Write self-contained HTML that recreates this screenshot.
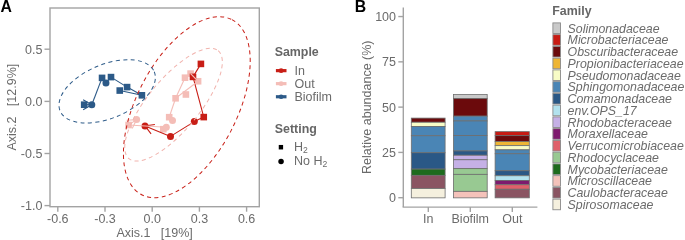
<!DOCTYPE html>
<html><head><meta charset="utf-8"><style>
html,body{margin:0;padding:0;background:#fff;width:685px;height:240px;overflow:hidden}
svg{display:block;will-change:transform}
text{font-family:"Liberation Sans",sans-serif}
.t{font-size:12.5px;fill:#6b6b6b}
.lt{font-size:12.4px;font-weight:bold;fill:#666666}
.it{font-size:12.35px;font-style:italic;fill:#6b6b6b}
.tag{font-size:15.8px;font-weight:bold;fill:#000}
</style></head><body>
<svg width="685" height="240" viewBox="0 0 685 240">
<rect x="181.70" y="74.40" width="6.6" height="6.6" fill="#f4bdb7"/>
<rect x="187.30" y="70.30" width="6.6" height="6.6" fill="#f4bdb7"/>
<rect x="194.80" y="77.95" width="6.6" height="6.6" fill="#f4bdb7"/>
<rect x="172.30" y="95.00" width="6.6" height="6.6" fill="#f4bdb7"/>
<rect x="182.60" y="91.20" width="6.6" height="6.6" fill="#f4bdb7"/>
<rect x="165.90" y="113.90" width="6.6" height="6.6" fill="#f4bdb7"/>
<rect x="160.00" y="125.90" width="6.6" height="6.6" fill="#f4bdb7"/>
<rect x="125.30" y="121.70" width="6.6" height="6.6" fill="#f4bdb7"/>
<circle cx="172.5" cy="120.6" r="3.5" fill="#f4bdb7"/>
<circle cx="166.3" cy="127.2" r="3.5" fill="#f4bdb7"/>
<circle cx="136.6" cy="119.6" r="3.5" fill="#f4bdb7"/>
<rect x="197.60" y="60.60" width="6.6" height="6.6" fill="#c81e16"/>
<rect x="189.70" y="73.60" width="6.6" height="6.6" fill="#c81e16"/>
<rect x="200.45" y="113.80" width="6.6" height="6.6" fill="#c81e16"/>
<circle cx="194.3" cy="121.6" r="3.5" fill="#c81e16"/>
<circle cx="170.5" cy="136.4" r="3.5" fill="#c81e16"/>
<circle cx="145" cy="125.9" r="3.5" fill="#c81e16"/>
<rect x="80.90" y="101.40" width="6.6" height="6.6" fill="#2c5a88"/>
<rect x="98.75" y="74.60" width="6.6" height="6.6" fill="#2c5a88"/>
<rect x="107.70" y="73.80" width="6.6" height="6.6" fill="#2c5a88"/>
<rect x="116.45" y="87.25" width="6.6" height="6.6" fill="#2c5a88"/>
<rect x="123.80" y="83.80" width="6.6" height="6.6" fill="#2c5a88"/>
<rect x="138.60" y="92.00" width="6.6" height="6.6" fill="#2c5a88"/>
<circle cx="91.8" cy="104.7" r="3.5" fill="#2c5a88"/>
<circle cx="105.95" cy="83.1" r="3.5" fill="#2c5a88"/>
<polyline points="200.9,63.9 193,76.9 203.75,117.1 194.3,121.6 170.5,136.4 145,125.9" fill="none" stroke="#c81e16" stroke-width="1.1" stroke-linejoin="round"/>
<polyline points="151.10,133.82 145,125.9 154.91,124.57" fill="none" stroke="#c81e16" stroke-width="1.1"/>
<polyline points="185,77.7 175.6,98.3" fill="none" stroke="#f4bdb7" stroke-width="1.1" stroke-linejoin="round"/>
<polyline points="198.1,81.25 175.6,98.3" fill="none" stroke="#f4bdb7" stroke-width="1.1" stroke-linejoin="round"/>
<polyline points="190.6,73.6 198.1,81.25" fill="none" stroke="#f4bdb7" stroke-width="1.1" stroke-linejoin="round"/>
<polyline points="175.6,98.3 169.2,117.2" fill="none" stroke="#f4bdb7" stroke-width="1.1" stroke-linejoin="round"/>
<polyline points="169.2,117.2 172.5,120.6" fill="none" stroke="#f4bdb7" stroke-width="1.1" stroke-linejoin="round"/>
<polyline points="166.3,127.2 128.6,125 136.6,119.6" fill="none" stroke="#f4bdb7" stroke-width="1.1" stroke-linejoin="round"/>
<polyline points="126.62,120.30 136.6,119.6 132.22,128.59" fill="none" stroke="#f4bdb7" stroke-width="1.1"/>
<polyline points="119.75,90.55 141.9,95.3 127.1,87.1 111,77.1 105.95,83.1" fill="none" stroke="#2c5a88" stroke-width="1.1" stroke-linejoin="round"/>
<polyline points="102.05,77.9 91.8,104.7" fill="none" stroke="#2c5a88" stroke-width="1.1" stroke-linejoin="round"/>
<polyline points="84.2,104.7 91.8,104.7" fill="none" stroke="#2c5a88" stroke-width="1.1" stroke-linejoin="round"/>
<polyline points="83.14,99.70 91.8,104.7 83.14,109.70" fill="none" stroke="#2c5a88" stroke-width="1.1"/>
<ellipse cx="186.82" cy="107.18" rx="98.48" ry="50.09" transform="rotate(-62.73 186.82 107.18)" fill="none" stroke="#c81e16" stroke-width="1.0" stroke-dasharray="4 3.4"/>
<ellipse cx="173.54" cy="104.71" rx="70.03" ry="25.65" transform="rotate(-50.43 173.54 104.71)" fill="none" stroke="#f1b3ad" stroke-width="1.0" stroke-dasharray="4 3.4"/>
<ellipse cx="107.18" cy="91.35" rx="51.0" ry="26.9" transform="rotate(-22.62 107.18 91.35)" fill="none" stroke="#2c5a88" stroke-width="1.0" stroke-dasharray="4 3.4"/>
<rect x="50" y="8" width="209.3" height="198.7" fill="none" stroke="#a3a3a3" stroke-width="1.4"/>
<line x1="44.5" y1="49.2" x2="50" y2="49.2" stroke="#a3a3a3" stroke-width="1.4"/>
<text x="42.4" y="53.7" text-anchor="end" class="t">0.5</text>
<line x1="44.5" y1="101.4" x2="50" y2="101.4" stroke="#a3a3a3" stroke-width="1.4"/>
<text x="42.4" y="105.9" text-anchor="end" class="t">0.0</text>
<line x1="44.5" y1="153.5" x2="50" y2="153.5" stroke="#a3a3a3" stroke-width="1.4"/>
<text x="42.4" y="158.0" text-anchor="end" class="t">-0.5</text>
<line x1="44.5" y1="205.6" x2="50" y2="205.6" stroke="#a3a3a3" stroke-width="1.4"/>
<text x="42.4" y="210.1" text-anchor="end" class="t">-1.0</text>
<line x1="57.8" y1="206.7" x2="57.8" y2="211.7" stroke="#a3a3a3" stroke-width="1.4"/>
<text x="57.8" y="222.7" text-anchor="middle" class="t">-0.6</text>
<line x1="105" y1="206.7" x2="105" y2="211.7" stroke="#a3a3a3" stroke-width="1.4"/>
<text x="105" y="222.7" text-anchor="middle" class="t">-0.3</text>
<line x1="152.2" y1="206.7" x2="152.2" y2="211.7" stroke="#a3a3a3" stroke-width="1.4"/>
<text x="152.2" y="222.7" text-anchor="middle" class="t">0.0</text>
<line x1="199.4" y1="206.7" x2="199.4" y2="211.7" stroke="#a3a3a3" stroke-width="1.4"/>
<text x="199.4" y="222.7" text-anchor="middle" class="t">0.3</text>
<line x1="246.6" y1="206.7" x2="246.6" y2="211.7" stroke="#a3a3a3" stroke-width="1.4"/>
<text x="246.6" y="222.7" text-anchor="middle" class="t">0.6</text>
<text x="154.6" y="236.8" text-anchor="middle" class="t" xml:space="preserve">Axis.1   [19%]</text>
<text transform="translate(16.3 107.2) rotate(-90)" text-anchor="middle" class="t" xml:space="preserve">Axis.2   [12.9%]</text>
<text x="0.6" y="12" class="tag">A</text>
<text x="274.7" y="56.0" class="lt">Sample</text>
<line x1="275.9" y1="70.65" x2="286.5" y2="70.65" stroke="#c81e16" stroke-width="3.2"/>
<circle cx="281.1" cy="70.65" r="2.35" fill="#c81e16"/>
<text x="294.5" y="75.30000000000001" class="t">In</text>
<line x1="275.9" y1="83.65" x2="286.5" y2="83.65" stroke="#f4bdb7" stroke-width="3.2"/>
<circle cx="281.1" cy="83.65" r="2.35" fill="#f4bdb7"/>
<text x="294.5" y="88.30000000000001" class="t">Out</text>
<line x1="275.9" y1="96.75" x2="286.5" y2="96.75" stroke="#2c5a88" stroke-width="3.2"/>
<circle cx="281.1" cy="96.75" r="2.35" fill="#2c5a88"/>
<text x="294.5" y="101.4" class="t">Biofilm</text>
<text x="274.8" y="132.55" class="lt">Setting</text>
<rect x="278.75" y="144.95" width="4.35" height="4.5" fill="#000"/>
<circle cx="281.05" cy="161.4" r="2.75" fill="#000"/>
<text x="294.0" y="150.7" class="t">H<tspan font-size="8.6" dy="2.1">2</tspan></text>
<text x="294.0" y="164.6" class="t">No H<tspan font-size="8.6" dy="2.1">2</tspan></text>
<text x="354.8" y="12" class="tag">B</text>
<rect x="411.3" y="118.1" width="33.80" height="4.15" fill="#6b0a0c" stroke="#6e6e6e" stroke-width="0.8"/>
<rect x="411.3" y="122.25" width="33.80" height="4.20" fill="#f8fcc6" stroke="#6e6e6e" stroke-width="0.8"/>
<rect x="411.3" y="126.44999999999999" width="33.80" height="9.30" fill="#4a85b5" stroke="#6e6e6e" stroke-width="0.8"/>
<rect x="411.3" y="135.75" width="33.80" height="17.00" fill="#4a85b5" stroke="#6e6e6e" stroke-width="0.8"/>
<rect x="411.3" y="152.75" width="33.80" height="16.35" fill="#2a5886" stroke="#6e6e6e" stroke-width="0.8"/>
<rect x="411.3" y="169.1" width="33.80" height="6.25" fill="#1d6b1d" stroke="#6e6e6e" stroke-width="0.8"/>
<rect x="411.3" y="175.35" width="33.80" height="13.25" fill="#8a5462" stroke="#6e6e6e" stroke-width="0.8"/>
<rect x="411.3" y="188.6" width="33.80" height="9.25" fill="#f5f0de" stroke="#6e6e6e" stroke-width="0.8"/>
<rect x="453.4" y="94.55" width="33.80" height="4.10" fill="#c9c9c9" stroke="#6e6e6e" stroke-width="0.8"/>
<rect x="453.4" y="98.64999999999999" width="33.80" height="17.50" fill="#6b0a0c" stroke="#6e6e6e" stroke-width="0.8"/>
<rect x="453.4" y="116.14999999999999" width="33.80" height="4.80" fill="#4a85b5" stroke="#6e6e6e" stroke-width="0.8"/>
<rect x="453.4" y="120.94999999999999" width="33.80" height="14.65" fill="#4a85b5" stroke="#6e6e6e" stroke-width="0.8"/>
<rect x="453.4" y="135.6" width="33.80" height="15.35" fill="#4a85b5" stroke="#6e6e6e" stroke-width="0.8"/>
<rect x="453.4" y="150.95" width="33.80" height="4.30" fill="#2a5886" stroke="#6e6e6e" stroke-width="0.8"/>
<rect x="453.4" y="155.25" width="33.80" height="4.50" fill="#c5b0e6" stroke="#6e6e6e" stroke-width="0.8"/>
<rect x="453.4" y="159.75" width="33.80" height="8.90" fill="#c5b0e6" stroke="#6e6e6e" stroke-width="0.8"/>
<rect x="453.4" y="168.65" width="33.80" height="5.70" fill="#98c992" stroke="#6e6e6e" stroke-width="0.8"/>
<rect x="453.4" y="174.35" width="33.80" height="17.00" fill="#98c992" stroke="#6e6e6e" stroke-width="0.8"/>
<rect x="453.4" y="191.35" width="33.80" height="6.50" fill="#f4c2ba" stroke="#6e6e6e" stroke-width="0.8"/>
<rect x="495.1" y="131.65" width="34.20" height="4.00" fill="#c81a12" stroke="#6e6e6e" stroke-width="0.8"/>
<rect x="495.1" y="135.65" width="34.20" height="5.90" fill="#6b0a0c" stroke="#6e6e6e" stroke-width="0.8"/>
<rect x="495.1" y="141.54999999999998" width="34.20" height="4.10" fill="#eeb534" stroke="#6e6e6e" stroke-width="0.8"/>
<rect x="495.1" y="145.65" width="34.20" height="4.20" fill="#f8fcc6" stroke="#6e6e6e" stroke-width="0.8"/>
<rect x="495.1" y="149.85" width="34.20" height="3.90" fill="#4a85b5" stroke="#6e6e6e" stroke-width="0.8"/>
<rect x="495.1" y="153.75" width="34.20" height="17.00" fill="#4a85b5" stroke="#6e6e6e" stroke-width="0.8"/>
<rect x="495.1" y="170.75" width="34.20" height="5.00" fill="#2a5886" stroke="#6e6e6e" stroke-width="0.8"/>
<rect x="495.1" y="175.75" width="34.20" height="4.70" fill="#b2e2ee" stroke="#6e6e6e" stroke-width="0.8"/>
<rect x="495.1" y="180.45" width="34.20" height="4.30" fill="#7e1a6e" stroke="#6e6e6e" stroke-width="0.8"/>
<rect x="495.1" y="184.75" width="34.20" height="4.50" fill="#e0606a" stroke="#6e6e6e" stroke-width="0.8"/>
<rect x="495.1" y="189.25" width="34.20" height="8.60" fill="#8a5462" stroke="#6e6e6e" stroke-width="0.8"/>
<line x1="403.3" y1="7.4" x2="403.3" y2="207.1" stroke="#a3a3a3" stroke-width="1.4"/>
<line x1="402.6" y1="207.1" x2="537.4" y2="207.1" stroke="#a3a3a3" stroke-width="1.4"/>
<line x1="398.3" y1="16.55" x2="403.3" y2="16.55" stroke="#a3a3a3" stroke-width="1.4"/>
<text x="396" y="21.15" text-anchor="end" class="t">100</text>
<line x1="398.3" y1="61.84" x2="403.3" y2="61.84" stroke="#a3a3a3" stroke-width="1.4"/>
<text x="396" y="66.44" text-anchor="end" class="t">75</text>
<line x1="398.3" y1="107.12" x2="403.3" y2="107.12" stroke="#a3a3a3" stroke-width="1.4"/>
<text x="396" y="111.72" text-anchor="end" class="t">50</text>
<line x1="398.3" y1="152.41" x2="403.3" y2="152.41" stroke="#a3a3a3" stroke-width="1.4"/>
<text x="396" y="157.01" text-anchor="end" class="t">25</text>
<line x1="398.3" y1="197.7" x2="403.3" y2="197.7" stroke="#a3a3a3" stroke-width="1.4"/>
<text x="396" y="202.29999999999998" text-anchor="end" class="t">0</text>
<line x1="428.3" y1="207.1" x2="428.3" y2="211.9" stroke="#a3a3a3" stroke-width="1.4"/>
<text x="428.3" y="222.7" text-anchor="middle" class="t">In</text>
<line x1="470.3" y1="207.1" x2="470.3" y2="211.9" stroke="#a3a3a3" stroke-width="1.4"/>
<text x="470.3" y="222.7" text-anchor="middle" class="t">Biofilm</text>
<line x1="512.3" y1="207.1" x2="512.3" y2="211.9" stroke="#a3a3a3" stroke-width="1.4"/>
<text x="512.3" y="222.7" text-anchor="middle" class="t">Out</text>
<text transform="translate(370.6 107.2) rotate(-90)" text-anchor="middle" class="t">Relative abundance (%)</text>
<text x="552.3" y="14.6" class="lt">Family</text>
<rect x="552.9" y="22.90" width="7.6" height="10.6" fill="#c9c9c9" stroke="#8a8a8a" stroke-width="0.9"/>
<text x="567.6" y="32.70" class="it">Solimonadaceae</text>
<rect x="552.9" y="34.65" width="7.6" height="10.6" fill="#c81a12" stroke="#8a8a8a" stroke-width="0.9"/>
<text x="567.6" y="44.45" class="it">Microbacteriaceae</text>
<rect x="552.9" y="46.40" width="7.6" height="10.6" fill="#6b0a0c" stroke="#8a8a8a" stroke-width="0.9"/>
<text x="567.6" y="56.20" class="it">Obscuribacteraceae</text>
<rect x="552.9" y="58.15" width="7.6" height="10.6" fill="#eeb534" stroke="#8a8a8a" stroke-width="0.9"/>
<text x="567.6" y="67.95" class="it">Propionibacteriaceae</text>
<rect x="552.9" y="69.90" width="7.6" height="10.6" fill="#f8fcc6" stroke="#8a8a8a" stroke-width="0.9"/>
<text x="567.6" y="79.70" class="it">Pseudomonadaceae</text>
<rect x="552.9" y="81.65" width="7.6" height="10.6" fill="#4a85b5" stroke="#8a8a8a" stroke-width="0.9"/>
<text x="567.6" y="91.45" class="it">Sphingomonadaceae</text>
<rect x="552.9" y="93.40" width="7.6" height="10.6" fill="#2a5886" stroke="#8a8a8a" stroke-width="0.9"/>
<text x="567.6" y="103.20" class="it">Comamonadaceae</text>
<rect x="552.9" y="105.15" width="7.6" height="10.6" fill="#b2e2ee" stroke="#8a8a8a" stroke-width="0.9"/>
<text x="567.6" y="114.95" class="it">env.OPS_17</text>
<rect x="552.9" y="116.90" width="7.6" height="10.6" fill="#c5b0e6" stroke="#8a8a8a" stroke-width="0.9"/>
<text x="567.6" y="126.70" class="it">Rhodobacteraceae</text>
<rect x="552.9" y="128.65" width="7.6" height="10.6" fill="#7e1a6e" stroke="#8a8a8a" stroke-width="0.9"/>
<text x="567.6" y="138.45" class="it">Moraxellaceae</text>
<rect x="552.9" y="140.40" width="7.6" height="10.6" fill="#e0606a" stroke="#8a8a8a" stroke-width="0.9"/>
<text x="567.6" y="150.20" class="it">Verrucomicrobiaceae</text>
<rect x="552.9" y="152.15" width="7.6" height="10.6" fill="#98c992" stroke="#8a8a8a" stroke-width="0.9"/>
<text x="567.6" y="161.95" class="it">Rhodocyclaceae</text>
<rect x="552.9" y="163.90" width="7.6" height="10.6" fill="#1d6b1d" stroke="#8a8a8a" stroke-width="0.9"/>
<text x="567.6" y="173.70" class="it">Mycobacteriaceae</text>
<rect x="552.9" y="175.65" width="7.6" height="10.6" fill="#f4c2ba" stroke="#8a8a8a" stroke-width="0.9"/>
<text x="567.6" y="185.45" class="it">Microscillaceae</text>
<rect x="552.9" y="187.40" width="7.6" height="10.6" fill="#8a5462" stroke="#8a8a8a" stroke-width="0.9"/>
<text x="567.6" y="197.20" class="it">Caulobacteraceae</text>
<rect x="552.9" y="199.15" width="7.6" height="10.6" fill="#f5f0de" stroke="#8a8a8a" stroke-width="0.9"/>
<text x="567.6" y="208.95" class="it">Spirosomaceae</text>
</svg>
</body></html>
